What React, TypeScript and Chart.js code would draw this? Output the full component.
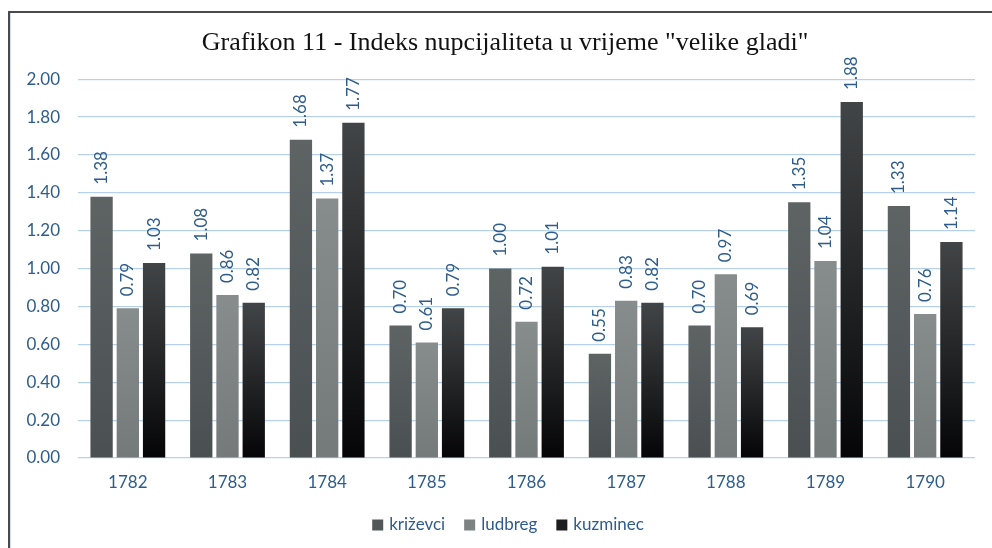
import React, { useEffect, useRef } from "react";
import { Chart, registerables } from "chart.js";

Chart.register(...registerables);

const years = ["1782", "1783", "1784", "1785", "1786", "1787", "1788", "1789", "1790"];
const krizevci = [1.38, 1.08, 1.68, 0.70, 1.00, 0.55, 0.70, 1.35, 1.33];
const ludbreg = [0.79, 0.86, 1.37, 0.61, 0.72, 0.83, 0.97, 1.04, 0.76];
const kuzminec = [1.03, 0.82, 1.77, 0.79, 1.01, 0.82, 0.69, 1.88, 1.14];
const seriesNames = ["križevci", "ludbreg", "kuzminec"];
const yTicks = [0, 0.2, 0.4, 0.6, 0.8, 1.0, 1.2, 1.4, 1.6, 1.8, 2.0];
const title = 'Grafikon 11 - Indeks nupcijaliteta u vrijeme "velike gladi"';

const BLUE = "#2e5d8c";
const gradStops: [string, string][] = [
  ["#5e6364", "#4a5052"],
  ["#878c8d", "#74797a"],
  ["#424547", "#050507"],
];
const legendColors = ["#52585a", "#7d8283", "#1c1d1f"];

function barGradient(idx: number) {
  return (ctx: any) => {
    const chart = ctx.chart;
    const area = chart.chartArea;
    if (!area || ctx.type !== "data") return legendColors[idx];
    const y = chart.scales.y;
    const top = y.getPixelForValue(ctx.parsed ? ctx.parsed.y : ctx.raw);
    const bottom = y.getPixelForValue(0);
    if (!isFinite(top) || !isFinite(bottom) || top === bottom) return legendColors[idx];
    const g = chart.ctx.createLinearGradient(0, top, 0, bottom);
    g.addColorStop(0, gradStops[idx][0]);
    g.addColorStop(1, gradStops[idx][1]);
    return g;
  };
}

const valueLabels = {
  id: "valueLabels",
  afterDatasetsDraw(chart: any) {
    const c = chart.ctx;
    c.save();
    c.fillStyle = BLUE;
    c.font = "17px Lato";
    c.textAlign = "left";
    c.textBaseline = "middle";
    chart.data.datasets.forEach((ds: any, i: number) => {
      const meta = chart.getDatasetMeta(i);
      meta.data.forEach((bar: any, j: number) => {
        const v = ds.data[j];
        c.save();
        c.translate(bar.x, bar.y - 12);
        c.rotate(-Math.PI / 2);
        c.fillText(v.toFixed(2), 0, 0);
        c.restore();
      });
    });
    c.restore();
  },
};

// Title and legend drawn centred where the original places them
const titleAndLegend = {
  id: "titleAndLegend",
  afterDraw(chart: any) {
    const c = chart.ctx;
    c.save();
    // title
    c.fillStyle = "#111";
    c.font = "26px 'Liberation Serif'";
    c.textAlign = "center";
    c.textBaseline = "middle";
    c.fillText(title, 505, 43);
    // legend
    c.font = "17px Lato";
    c.textAlign = "left";
    const box = 11, gapText = 6, gapItem = 19;
    const widths = seriesNames.map((n) => box + gapText + c.measureText(n).width);
    const total = widths.reduce((a, b) => a + b, 0) + gapItem * (seriesNames.length - 1);
    let x = 508 - total / 2;
    const y = chart.chartArea.bottom + 67;
    seriesNames.forEach((n, i) => {
      c.fillStyle = legendColors[i];
      c.fillRect(x, y - box / 2, box, box);
      c.fillStyle = BLUE;
      c.fillText(n, x + box + gapText, y);
      x += widths[i] + gapItem;
    });
    c.restore();
  },
};

export default function App() {
  const ref = useRef<HTMLCanvasElement>(null);
  useEffect(() => {
    if (!ref.current) return;
    const datasets = [krizevci, ludbreg, kuzminec].map((d, i) => ({
      label: seriesNames[i],
      data: d,
      backgroundColor: barGradient(i),
      borderWidth: 0,
      categoryPercentage: 0.79,
      barPercentage: 0.85,
    }));
    const chart = new Chart(ref.current, {
      type: "bar",
      data: { labels: years, datasets },
      options: {
        animation: false,
        responsive: false,
        layout: { padding: { left: 0, right: 17, top: 0, bottom: 44 } },
        plugins: {
          title: {
            display: true,
            text: title,
            color: "rgba(0,0,0,0)",
            font: { family: "Liberation Serif", size: 26, weight: "normal" },
            padding: { top: 28, bottom: 20 },
          },
          legend: { display: false },
          tooltip: { enabled: false },
        },
        scales: {
          x: {
            grid: { display: false },
            border: { display: false },
            ticks: { color: BLUE, font: { family: "Lato", size: 17 }, padding: 6 },
            afterFit: (s: any) => {
              s.height = 46;
            },
          },
          y: {
            min: 0,
            max: 2,
            afterBuildTicks: (s: any) => {
              s.ticks = yTicks.map((v) => ({ value: v }));
            },
            grid: { color: "#b7d1ea", lineWidth: 1.2, drawTicks: false },
            border: { display: false },
            ticks: {
              color: BLUE,
              font: { family: "Lato", size: 17 },
              padding: 18,
              callback: (v: any) => Number(v).toFixed(2),
            },
            afterFit: (s: any) => {
              s.width = 78;
            },
          },
        },
      },
      plugins: [valueLabels, titleAndLegend],
    });
    return () => chart.destroy();
  }, []);
  return (
    <div style={{ position: "fixed", left: 0, top: 0, width: 992, height: 548, background: "#fff" }}>
      <canvas ref={ref} width={992} height={548} style={{ position: "absolute", left: 0, top: 0 }} />
      <div style={{ position: "absolute", left: 8, top: 11, width: 1.5, height: 537, background: "#4a4a4a" }} />
      <div style={{ position: "absolute", left: 8, top: 11, width: 984, height: 1.5, background: "#4a4a4a" }} />
      <div style={{ position: "absolute", left: 10, top: 13, width: 1, height: 535, background: "#cfe0f0" }} />
    </div>
  );
}
